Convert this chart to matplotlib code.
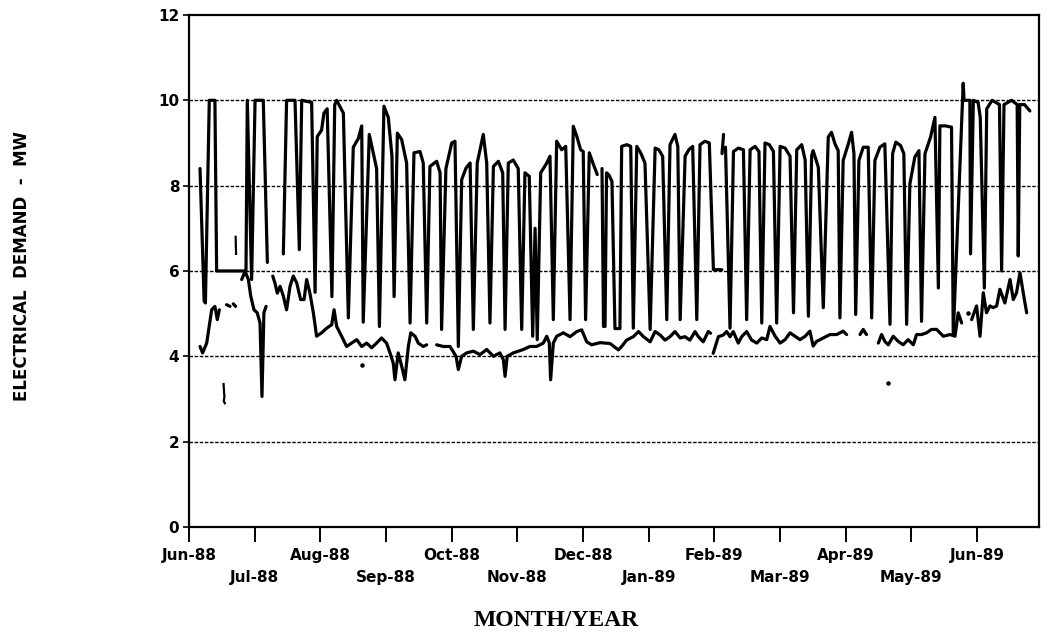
import numpy as np
import matplotlib
matplotlib.use("Agg")
import matplotlib.pyplot as plt

nan = np.nan

# x = days after the Jun-88 tick, y = MW
# daily peak demand: weekday plateaus, weekend drops
upper_pts = [
    (5.1, 8.4), (7.0, 5.3), (7.6, 5.25), (9.4, 10.0), (12.0, 10.0), (12.8, 6.0), (26.4, 6.0),
    (27.0, 10.0), (29.0, 5.8), (30.6, 10.0), (34.4, 10.0), (36.3, 6.2), (nan, nan),
    (43.7, 6.4), (45.2, 10.0), (49.1, 10.0), (51.1, 6.5), (52.2, 10.0), (56.8, 9.95), (58.4, 5.5),
    (59.4, 9.15), (61.4, 9.3), (62.5, 9.7), (64.0, 9.8), (66.2, 5.4), (67.5, 9.9), (68.4, 10.0),
    (71.5, 9.7), (73.8, 4.9), (76.1, 8.9), (78.4, 9.1), (80.0, 9.4), (80.7, 4.8), (83.5, 9.2),
    (86.9, 8.4), (88.2, 4.7), (90.3, 9.86), (92.3, 9.6), (94.0, 8.7), (95.0, 5.4), (96.5, 9.23),
    (98.5, 9.08), (100.8, 8.53), (102.4, 4.78), (104.2, 8.77), (107.0, 8.8), (108.5, 8.53),
    (110.1, 4.78), (111.6, 8.45), (114.7, 8.57), (116.3, 8.3), (117.0, 4.63), (119.0, 8.4),
    (121.7, 9.0), (123.2, 9.04), (124.75, 4.23), (126.3, 8.14), (128.3, 8.41), (130.2, 8.53),
    (131.7, 4.63), (133.5, 8.53), (136.3, 9.2), (137.9, 8.53), (139.4, 4.78), (141.0, 8.45),
    (143.3, 8.57), (145.3, 8.3), (146.4, 4.63), (147.9, 8.53), (150.2, 8.6), (152.5, 8.4),
    (154.1, 4.63), (155.6, 8.3), (157.6, 8.22), (159.2, 4.47), (160.3, 7.0), (161.3, 4.39),
    (162.9, 8.3), (165.7, 8.53), (167.2, 8.69), (168.75, 4.86), (170.3, 9.04), (172.6, 8.84),
    (174.5, 8.92), (176.5, 4.86), (178.0, 9.39), (179.6, 9.16), (181.4, 8.84), (182.6, 8.8),
    (183.7, 4.86), (185.4, 8.77), (187.3, 8.5), (189.1, 8.26), (nan, nan),
    (191.3, 8.4), (192.0, 4.7), (192.7, 4.7), (193.4, 8.3), (194.5, 8.25), (195.9, 8.1),
    (197.3, 4.65), (199.6, 4.65), (200.4, 8.92), (202.8, 8.96), (204.6, 8.92), (205.8, 4.66),
    (207.4, 8.92), (209.2, 8.77), (211.2, 8.53), (213.6, 4.63), (215.9, 8.88), (217.6, 8.84),
    (219.4, 8.69), (221.3, 4.86), (222.8, 8.96), (225.1, 9.2), (226.4, 8.92), (227.5, 4.86),
    (229.8, 8.69), (231.5, 8.84), (233.3, 8.92), (235.2, 4.86), (236.7, 8.96), (239.0, 9.04),
    (241.0, 9.0), (242.9, 6.03), (246.8, 6.03), (nan, nan),
    (246.9, 8.75), (247.6, 9.2), (nan, nan),
    (248.5, 8.9), (250.6, 4.66), (252.2, 8.8), (254.5, 8.88), (256.8, 8.84), (258.3, 4.86),
    (259.9, 8.84), (262.2, 8.92), (264.0, 8.8), (265.3, 4.78), (266.8, 9.0), (268.8, 8.96),
    (270.7, 8.8), (272.2, 4.78), (273.8, 8.92), (276.1, 8.88), (278.4, 8.69), (280.0, 5.02),
    (281.5, 8.84), (283.8, 8.96), (285.4, 8.6), (286.9, 4.94), (288.4, 8.7), (289.1, 8.82),
    (291.5, 8.43), (293.8, 5.14), (296.1, 9.14), (297.6, 9.25), (299.2, 8.98), (300.7, 8.82),
    (301.5, 4.9), (303.0, 8.59), (305.4, 8.98), (306.9, 9.25), (308.0, 8.75), (308.8, 4.98),
    (310.3, 8.59), (312.3, 8.9), (314.6, 8.9), (316.2, 4.9), (317.7, 8.59), (320.0, 8.9),
    (322.3, 8.98), (324.7, 4.75), (325.9, 8.75), (327.4, 9.02), (329.6, 8.94), (331.1, 8.75),
    (332.4, 4.75), (333.9, 8.04), (336.2, 8.67), (338.1, 8.82), (339.3, 4.82), (340.9, 8.75),
    (343.5, 9.14), (345.5, 9.6), (347.1, 5.6), (347.8, 9.4), (350.5, 9.4), (353.2, 9.37),
    (354.0, 4.5), (358.3, 10.0), (358.6, 10.4), (359.0, 10.0), (361.7, 10.0), (362.0, 6.4),
    (363.3, 10.0), (365.5, 9.95), (366.5, 9.6), (368.4, 5.6), (369.5, 9.8), (372.0, 10.0),
    (375.4, 9.9), (376.4, 6.0), (377.5, 9.9), (381.0, 10.0), (383.6, 9.9), (384.1, 6.35),
    (384.8, 9.9), (387.0, 9.9), (389.5, 9.75),
]

# daily minimum demand
lower_pts = [
    (5.1, 4.23), (6.3, 4.08), (8.2, 4.31), (10.5, 5.09), (12.0, 5.17), (13.1, 4.86), (14.05, 5.09),
    (nan, nan), (17.4, 5.21), (19.0, 5.17), (nan, nan), (20.5, 5.23), (21.6, 5.17), (nan, nan),
    (24.4, 5.8), (26.0, 5.99), (27.5, 5.8), (28.6, 5.41), (30.1, 5.09), (31.6, 5.02), (32.9, 4.78),
    (33.8, 3.06), (34.7, 5.02), (35.7, 5.17), (nan, nan),
    (38.8, 5.88), (39.8, 5.72), (40.9, 5.48), (42.2, 5.64), (43.7, 5.41), (45.2, 5.09),
    (46.8, 5.64), (48.3, 5.88), (49.9, 5.72), (51.7, 5.33), (53.3, 5.33), (54.5, 5.8),
    (56.0, 5.48), (57.6, 5.02), (59.1, 4.47), (61.4, 4.55), (63.8, 4.66), (66.1, 4.74),
    (67.2, 5.09), (68.4, 4.7), (70.7, 4.47), (73.0, 4.23), (75.3, 4.31), (77.7, 4.39),
    (80.0, 4.23), (82.3, 4.31), (84.6, 4.2), (86.9, 4.31), (89.2, 4.43), (91.5, 4.31),
    (93.1, 4.08), (94.6, 3.84), (95.4, 3.45), (96.9, 4.08), (98.5, 3.77), (100.0, 3.45),
    (101.6, 4.23), (102.7, 4.55), (104.7, 4.47), (106.2, 4.31), (108.5, 4.23), (110.1, 4.27),
    (nan, nan), (114.7, 4.27), (117.8, 4.23), (120.9, 4.23), (123.7, 4.0), (124.75, 3.69),
    (126.3, 4.0), (128.6, 4.08), (131.7, 4.12), (134.8, 4.04), (137.9, 4.16), (141.0, 4.0),
    (144.0, 4.08), (145.6, 3.92), (146.4, 3.53), (147.4, 4.0), (150.2, 4.08), (152.5, 4.12),
    (154.9, 4.16), (157.9, 4.23), (161.0, 4.23), (164.1, 4.31), (165.7, 4.47), (166.9, 4.31),
    (167.5, 3.45), (168.75, 4.31), (170.3, 4.47), (173.4, 4.55), (176.5, 4.46), (179.6, 4.58),
    (181.9, 4.62), (184.2, 4.34), (186.5, 4.27), (188.9, 4.3), (190.4, 4.32), (195.0, 4.3),
    (198.9, 4.15), (200.4, 4.23), (202.7, 4.38), (205.8, 4.46), (208.2, 4.58), (210.5, 4.46),
    (213.6, 4.34), (215.9, 4.58), (218.2, 4.5), (220.5, 4.38), (222.8, 4.46), (225.1, 4.58),
    (227.5, 4.43), (229.7, 4.46), (232.0, 4.38), (234.4, 4.58), (235.9, 4.46), (238.2, 4.34),
    (240.5, 4.58), (241.6, 4.54), (nan, nan),
    (242.8, 4.07), (245.2, 4.46), (247.5, 4.5), (249.0, 4.58), (250.6, 4.46), (252.1, 4.58),
    (254.4, 4.31), (256.0, 4.46), (258.3, 4.58), (260.6, 4.38), (263.0, 4.31), (265.3, 4.43),
    (267.6, 4.39), (269.1, 4.7), (271.5, 4.47), (273.8, 4.31), (276.1, 4.39), (278.4, 4.55),
    (280.7, 4.47), (283.0, 4.39), (285.4, 4.47), (287.6, 4.59), (289.1, 4.24), (290.7, 4.35),
    (293.8, 4.43), (296.9, 4.51), (300.0, 4.51), (303.0, 4.59), (304.6, 4.51), (nan, nan),
    (310.8, 4.51), (312.3, 4.63), (313.8, 4.51), (nan, nan),
    (319.3, 4.31), (320.8, 4.51), (322.3, 4.35), (323.9, 4.27), (326.2, 4.47), (328.5, 4.35),
    (330.8, 4.27), (333.1, 4.39), (335.5, 4.27), (337.0, 4.51), (339.3, 4.51), (341.6, 4.55),
    (343.95, 4.63), (346.3, 4.63), (349.4, 4.47), (352.5, 4.51), (354.8, 4.47), (356.3, 5.02),
    (357.9, 4.78), (nan, nan),
    (362.5, 4.86), (364.8, 5.18), (366.4, 4.47), (367.9, 5.49), (369.4, 5.02), (371.0, 5.18),
    (372.5, 5.14), (374.1, 5.18), (375.6, 5.57), (377.9, 5.25), (380.3, 5.8), (381.8, 5.33),
    (383.3, 5.49), (384.9, 5.96), (386.4, 5.49), (388.0, 5.02),
]

# short stray strokes and specks left on the scan
stray_pts = [(21.6, 6.8), (21.8, 6.4), (nan, nan), (16.0, 3.35), (16.4, 3.05), (16.1, 2.95), (16.6, 2.9)]
speck_day = [80.0, 323.8, 361.0]
speck_mw = [3.8, 3.38, 5.02]

month_labels = ["Jun-88", "Jul-88", "Aug-88", "Sep-88", "Oct-88", "Nov-88", "Dec-88",
                "Jan-89", "Feb-89", "Mar-89", "Apr-89", "May-89", "Jun-89"]

upper_day, upper_mw = np.array(upper_pts).T
lower_day, lower_mw = np.array(lower_pts).T
stray_day, stray_mw = np.array(stray_pts).T

fig = plt.figure(figsize=(10.5, 6.39), dpi=100)
ax = fig.add_axes([0.18, 0.1753, 0.8095, 0.8013])

for y in [2, 4, 6, 8, 10]:
    ax.axhline(y, color="black", lw=1.0, linestyle=(0, (2.5, 1.2)), zorder=1)

line_kw = dict(color="black", lw=2.3, solid_joinstyle="round", solid_capstyle="round", zorder=3)
ax.plot(upper_day, upper_mw, **line_kw)
ax.plot(lower_day, lower_mw, **line_kw)
ax.plot(stray_day, stray_mw, color="black", lw=1.6, zorder=3)
ax.scatter(speck_day, speck_mw, s=5, color="black", zorder=3)

ax.set_xlim(0, 393.7)
ax.set_ylim(0, 12)

# months are spaced evenly on the axis; labels alternate between two rows
month_pos = np.arange(13) * 365 / 12
ax.set_xticks(month_pos[0::2])
ax.set_xticklabels(month_labels[0::2])
ax.set_xticks(month_pos[1::2], minor=True)
ax.set_xticklabels(month_labels[1::2], minor=True)
ax.tick_params(axis="x", which="both", direction="out", length=11, width=1.4)
ax.tick_params(axis="x", which="major", pad=4)
ax.tick_params(axis="x", which="minor", pad=20)
ax.set_yticks(range(0, 13, 2))
ax.tick_params(axis="y", direction="out", length=4, width=1.2, pad=3)

for lab in ax.get_xticklabels(minor=False) + ax.get_xticklabels(minor=True) + ax.get_yticklabels():
    lab.set_fontweight("bold")
    lab.set_fontsize(11)
    lab.set_family("DejaVu Sans")

for sp in ax.spines.values():
    sp.set_linewidth(1.6)

fig.text(0.021, 0.584, "ELECTRICAL  DEMAND  -  MW", rotation=90, ha="center", va="center",
         fontsize=12, fontweight="bold", family="DejaVu Sans")
fig.text(0.53, 0.029, "MONTH/YEAR", ha="center", va="center",
         fontsize=17, fontweight="bold", family="Liberation Serif")

fig.savefig("out.png", dpi=100)
